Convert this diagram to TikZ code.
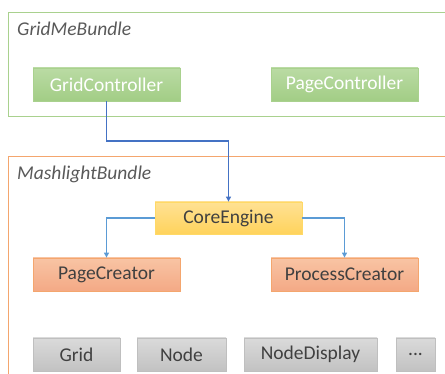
\documentclass[tikz,border=0pt]{standalone}
\usepackage{fontspec}
\setmainfont{Carlito}
\usetikzlibrary{arrows.meta}

\definecolor{grnline}{HTML}{A9D18E}
\definecolor{grntop}{HTML}{BADBA4}
\definecolor{grnbot}{HTML}{A2CD85}
\definecolor{orgline}{HTML}{F4A66E}
\definecolor{orgtop}{HTML}{F8C4A4}
\definecolor{orgbot}{HTML}{F4A985}
\definecolor{yelline}{HTML}{FFD966}
\definecolor{yeltop}{HTML}{FFE194}
\definecolor{yelbot}{HTML}{FFD35C}
\definecolor{gryline}{HTML}{BFBFBF}
\definecolor{grytop}{HTML}{DADADA}
\definecolor{grybot}{HTML}{C2C2C2}
\definecolor{txtgray}{HTML}{404040}
\definecolor{lblgray}{HTML}{595959}
\definecolor{linkdark}{HTML}{4472C4}
\definecolor{linklight}{HTML}{5B9BD5}

\begin{document}
\begin{tikzpicture}[x=1pt, y=-1pt,
    box/.style={rectangle, minimum height=33pt, inner sep=0pt, line width=0.8pt,
      font=\fontsize{19.5}{23}\selectfont},
    ctrl/.style={box, draw=grnline, top color=grntop, bottom color=grnbot, text=white, minimum width=147pt},
    creator/.style={box, draw=orgline, top color=orgtop, bottom color=orgbot, text=txtgray, minimum width=147pt},
    engine/.style={box, draw=yelline, top color=yeltop, bottom color=yelbot, text=txtgray, minimum width=147pt, minimum height=32pt},
    part/.style={box, draw=gryline, top color=grytop, bottom color=grybot, text=txtgray},
    bundle/.style={line width=0.9pt},
    bundlename/.style={anchor=west, inner sep=0pt, text=lblgray, font=\fontsize{19.5}{23}\selectfont\itshape},
    link/.style={line width=1.1pt, -{Triangle[length=5pt, width=5pt]}}]
  \useasboundingbox (0,0) rectangle (445,374);
  \clip (0,0) rectangle (445,374);

  % Bundles
  \draw[bundle, draw=grnline] (8,12) rectangle (460,116);
  \node[bundlename] (gridme) at (17,29) {GridMeBundle};
  \draw[bundle, draw=orgline] (8,156) rectangle (460,400);
  \node[bundlename] (mashlight) at (17,174) {MashlightBundle};

  % Controllers
  \node[ctrl] (gridctrl) at (106.5,84.5) {GridController};
  \node[ctrl] (pagectrl) at (344.5,84.5) {PageController};

  % Engine and creators
  \node[engine] (core) at (228.5,218) {CoreEngine};
  \node[creator] (pagecreator) at (106.5,274.5) {PageCreator};
  \node[creator] (proccreator) at (344.5,274.5) {ProcessCreator};

  % Model classes
  \node[part, minimum width=87pt] (grid) at (76.5,354.5) {Grid};
  \node[part, minimum width=89pt] (node) at (181.5,354.5) {Node};
  \node[part, minimum width=133pt] (nodedisp) at (310.5,354.5) {NodeDisplay};
  \node[part, minimum width=39pt] (more) at (415.5,354.5) {...};

  % Connections
  \coordinate (elbow) at (core.north |- 0,141);
  \draw[link, draw=linkdark] (gridctrl.south) |- (elbow) -- (core.north);
  \draw[link, draw=linklight] (core.west) -| (pagecreator.north);
  \draw[link, draw=linklight] (core.east) -| (proccreator.north);
\end{tikzpicture}
\end{document}
